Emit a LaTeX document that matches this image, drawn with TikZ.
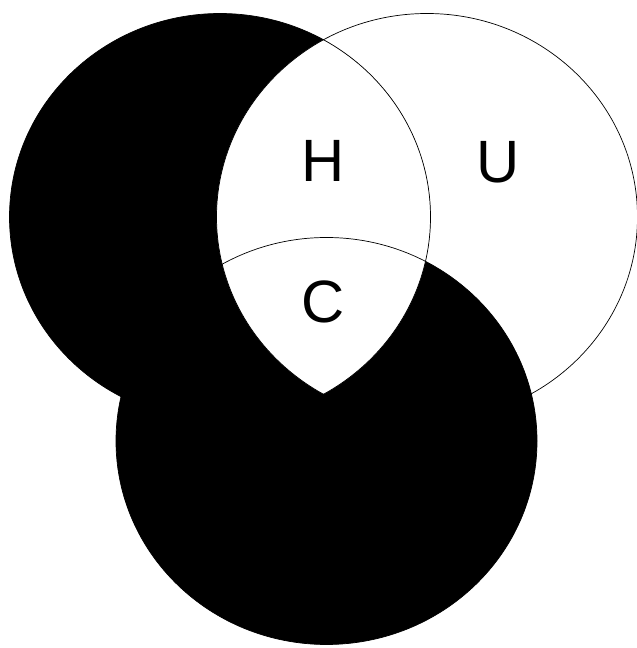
\documentclass[tikz,border=0pt]{standalone}
\usepackage{fontspec}
\setmainfont{Liberation Sans}

\begin{document}
\begin{tikzpicture}[vennr/.style={x radius=4.21cm, y radius=4.07cm},
    rim/.style={draw=black, line width=0.4pt},
    lbl/.style={font=\fontsize{34}{40}\selectfont}]
    \useasboundingbox (0,0) rectangle (12.74,12.96);
    \coordinate (lft) at (4.40,8.62);
    \coordinate (rgt) at (8.54,8.62);
    \coordinate (btm) at (6.53,4.14);
    \fill[black] (lft) ellipse [vennr] (btm) ellipse [vennr];
    \begin{scope}
        \clip (lft) ellipse [vennr];
        \fill[white] (rgt) ellipse [vennr];
    \end{scope}
    \draw[rim] (lft) ellipse [vennr];
    \draw[rim] (rgt) ellipse [vennr];
    \draw[rim] (btm) ellipse [vennr];
    \node[lbl] (h) at (6.46,9.74) {H};
    \node[lbl] (u) at (9.96,9.72) {U};
    \node[lbl] (c) at (6.46,6.92) {C};
\end{tikzpicture}
\end{document}
